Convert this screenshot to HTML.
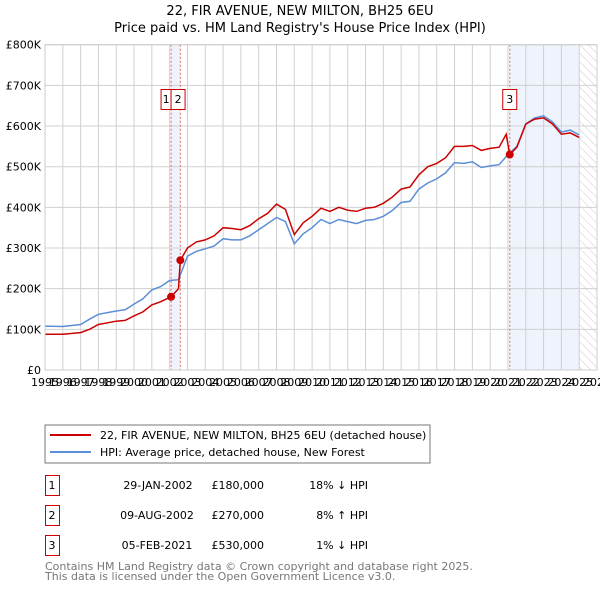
<!DOCTYPE html>
<html><head><meta charset="utf-8"><style>
body{margin:0;background:#fff;font-family:"Liberation Sans","DejaVu Sans",sans-serif;}
svg text{font-family:"DejaVu Sans","Liberation Sans",sans-serif;}
</style></head><body>
<svg id="c" width="600" height="590" xmlns="http://www.w3.org/2000/svg">
<defs><pattern id="hatch" width="6" height="6" patternUnits="userSpaceOnUse" patternTransform="rotate(-45)"><line x1="0" y1="0" x2="0" y2="6" stroke="#ccc" stroke-width="1"/></pattern></defs>
<text x="300" y="15" text-anchor="middle" font-size="13">22, FIR AVENUE, NEW MILTON, BH25 6EU</text>
<text x="300" y="32" text-anchor="middle" font-size="13">Price paid vs. HM Land Registry's House Price Index (HPI)</text>
<g id="plot"></g>
<rect x="45" y="425" width="385" height="38" fill="#fff" stroke="#777"/>
<line x1="50" y1="435" x2="91" y2="435" stroke="#cc0000" stroke-width="2"/>
<text x="100" y="439" font-size="11">22, FIR AVENUE, NEW MILTON, BH25 6EU (detached house)</text>
<line x1="50" y1="452" x2="91" y2="452" stroke="#5b8ed6" stroke-width="2"/>
<text x="100" y="456" font-size="11">HPI: Average price, detached house, New Forest</text>
<g font-size="11">
<rect x="45.5" y="475.5" width="14" height="20" fill="none" stroke="#cc0000"/><text x="52" y="489" text-anchor="middle">1</text>
<text x="158" y="489" text-anchor="middle">29-JAN-2002</text><text x="264" y="489" text-anchor="end">£180,000</text><text x="368" y="489" text-anchor="end">18% ↓ HPI</text>
<rect x="45.5" y="505.5" width="14" height="20" fill="none" stroke="#cc0000"/><text x="52" y="519" text-anchor="middle">2</text>
<text x="157" y="519" text-anchor="middle">09-AUG-2002</text><text x="264" y="519" text-anchor="end">£270,000</text><text x="368" y="519" text-anchor="end">8% ↑ HPI</text>
<rect x="45.5" y="535.5" width="14" height="20" fill="none" stroke="#cc0000"/><text x="52" y="549" text-anchor="middle">3</text>
<text x="157" y="549" text-anchor="middle">05-FEB-2021</text><text x="264" y="549" text-anchor="end">£530,000</text><text x="368" y="549" text-anchor="end">1% ↓ HPI</text>
</g>
<text x="45" y="570" font-size="11" fill="#777">Contains HM Land Registry data © Crown copyright and database right 2025.</text>
<text x="45" y="580" font-size="11" fill="#777">This data is licensed under the Open Government Licence v3.0.</text>
</svg>
<script>
const hpiYears=[1995,1996,1997,1997.5,1998,1999,1999.5,2000,2000.5,2001,2001.5,2002,2002.5,2003,2003.5,2004,2004.5,2005,2005.5,2006,2006.5,2007,2007.5,2008,2008.5,2009,2009.5,2010,2010.5,2011,2011.5,2012,2012.5,2013,2013.5,2014,2014.5,2015,2015.5,2016,2016.5,2017,2017.5,2018,2018.5,2019,2019.5,2020,2020.5,2021,2021.5,2022,2022.5,2023,2023.5,2024,2024.5,2025];
const hpiValues=[108,107,112,125,137,145,148,162,175,197,205,220,222,280,292,298,305,323,320,320,330,345,360,375,365,310,335,350,370,360,370,365,360,368,370,378,392,412,415,445,460,470,485,510,508,512,498,502,505,530,550,605,620,625,610,585,590,578];
const propYears=[1995,1996,1997,1997.5,1998,1999,1999.5,2000,2000.5,2001,2001.5,2002.08,2002.5,2002.6,2003,2003.5,2004,2004.5,2005,2005.5,2006,2006.5,2007,2007.5,2008,2008.5,2009,2009.5,2010,2010.5,2011,2011.5,2012,2012.5,2013,2013.5,2014,2014.5,2015,2015.5,2016,2016.5,2017,2017.5,2018,2018.5,2019,2019.5,2020,2020.5,2020.9,2021.1,2021.5,2022,2022.5,2023,2023.5,2024,2024.5,2025];
const propValues=[88,88,92,100,112,120,122,133,143,160,168,180,200,270,300,315,320,330,350,348,345,355,372,385,408,395,333,362,378,398,390,400,393,390,398,400,410,425,445,450,480,500,508,522,550,550,552,540,545,548,580,530,548,605,617,620,605,580,583,572];
const saleYears=[2002.08,2002.6,2021.1];
const saleValues=[180,270,530];
const saleLabels=["1","2","3"];
const yTicks=[0,100,200,300,400,500,600,700,800];
const yTickLabels=["£0","£100K","£200K","£300K","£400K","£500K","£600K","£700K","£800K"];
const xTicks=[1995,1996,1997,1998,1999,2000,2001,2002,2003,2004,2005,2006,2007,2008,2009,2010,2011,2012,2013,2014,2015,2016,2017,2018,2019,2020,2021,2022,2023,2024,2025,2026];
const X0=45,X1=597,Y0=370,Y1=44.7;
const xs=y=>X0+(y-1995)/(2026-1995)*(X1-X0);
const ys=v=>Y0-v/800*(Y0-Y1);
const g=document.getElementById('plot');
const NS='http://www.w3.org/2000/svg';
function mk(t,a){const e=document.createElementNS(NS,t);for(const k in a)e.setAttribute(k,a[k]);g.appendChild(e);return e;}
let e;
e=mk('rect',{x:X0,y:Y1,width:X1-X0,height:Y0-Y1,fill:'#fff'});


e=mk('rect',{x:xs(saleYears[0]),y:Y1,width:xs(saleYears[1])-xs(saleYears[0]),height:Y0-Y1,fill:'#eef3fc'});


e=mk('rect',{x:xs(saleYears[2]),y:Y1,width:xs(2025)-xs(saleYears[2]),height:Y0-Y1,fill:'#eef3fc'});


e=mk('rect',{x:xs(2025),y:Y1,width:X1-xs(2025),height:Y0-Y1,fill:'url(#hatch)'});


xTicks.forEach(t=>{
 e=mk('line',{x1:xs(t),x2:xs(t),y1:Y1,y2:Y0,stroke:'#d0d0d0','stroke-width':1});
 
 
 e=mk('text',{x:xs(t),y:Y0+16,'text-anchor':'middle','font-size':11});
 e.textContent=t;
 
 
});
yTicks.forEach((t,i)=>{
 e=mk('line',{x1:X0,x2:X1,y1:ys(t),y2:ys(t),stroke:'#d0d0d0','stroke-width':1});
 
 
 e=mk('text',{x:X0-4,y:ys(t)+4,'text-anchor':'end','font-size':11});
 e.textContent=yTickLabels[i];
 
 
});
saleYears.forEach((s,i)=>{
 e=mk('line',{x1:xs(s),x2:xs(s),y1:Y1,y2:Y0,stroke:'#e06666','stroke-width':1,'stroke-dasharray':'2,2'});
 
 
});
e=mk('path',{d:hpiYears.map((y,i)=>(i?'L':'M')+xs(y).toFixed(1)+','+ys(hpiValues[i]).toFixed(1)).join(''),fill:'none',stroke:'#5b8ed6','stroke-width':1.5});


e=mk('path',{d:propYears.map((y,i)=>(i?'L':'M')+xs(y).toFixed(1)+','+ys(propValues[i]).toFixed(1)).join(''),fill:'none',stroke:'#cc0000','stroke-width':1.5});


saleYears.forEach((s,i)=>{
 e=mk('circle',{cx:xs(s),cy:ys(saleValues[i]),r:4,fill:'#cc0000'});
 
 
});
const b1=xs(saleYears[0]);
[[b1-10,10],[b1,14],[xs(saleYears[2])-7,14]].forEach(([bx,w],i)=>{
 e=mk('rect',{x:bx,y:89.5,width:w,height:20,fill:'#fff',stroke:'#cc0000'});
 
 
 e=mk('text',{x:bx+w/2,y:103,'text-anchor':'middle','font-size':11});
 e.textContent=saleLabels[i];
 
 
});
e=mk('rect',{x:X0,y:Y1,width:X1-X0,height:Y0-Y1,fill:'none',stroke:'#ccc'});


</script>
</body></html>
